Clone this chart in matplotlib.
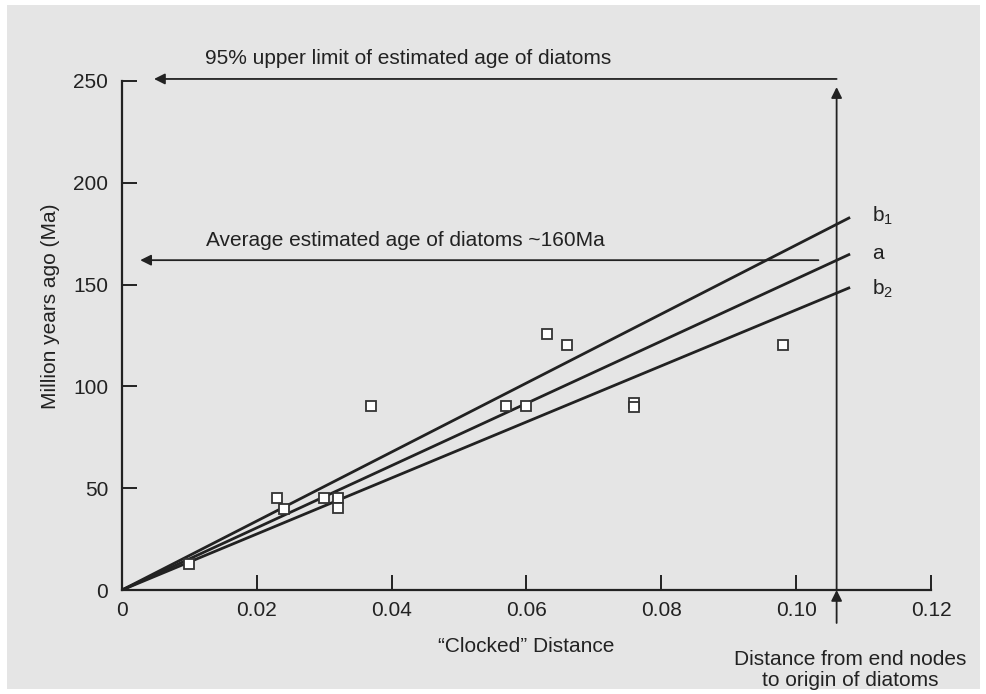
import matplotlib.pyplot as plt
from matplotlib.patches import Rectangle

plt.rcParams['font.family'] = ['Liberation Sans', 'DejaVu Sans']
plt.rcParams['mathtext.fontset'] = 'custom'
plt.rcParams['mathtext.rm'] = 'Liberation Sans'
plt.rcParams['mathtext.it'] = 'Liberation Sans'

# data
dist = [0.010, 0.023, 0.024, 0.030, 0.032, 0.032, 0.037, 0.057, 0.060,
        0.063, 0.066, 0.076, 0.076, 0.098]
age = [13, 45, 40, 45, 45, 40.5, 90.5, 90.5, 90.5, 125.7, 120.3, 92, 90, 120.3]

line_names = ['$\\mathregular{b_1}$', 'a', '$\\mathregular{b_2}$']
line_x_end = 0.108
line_y_end = [183, 165, 148.6]
label_y = [184, 165.5, 148]

upper_age = 251
avg_age = 162
origin_dist = 0.106

xticks = [0, 0.02, 0.04, 0.06, 0.08, 0.10, 0.12]
xticklabels = ['0', '0.02', '0.04', '0.06', '0.08', '0.10', '0.12']
yticks = [0, 50, 100, 150, 200, 250]

dark = '#222222'
grey = '#e5e5e5'
fs = 15

fig = plt.figure(figsize=(9.87, 6.94), dpi=100, facecolor='white')
fig.patches.append(Rectangle((7/987, 5/694), 1 - 14/987, 1 - 10/694,
                             transform=fig.transFigure, facecolor=grey,
                             edgecolor='none', zorder=-10))
ax = fig.add_axes([122/987, 1 - 590/694, (931 - 122)/987, (590 - 81)/694])
ax.set_facecolor('none')

for yend in line_y_end:
    ax.plot([0, line_x_end], [0, yend], color=dark, lw=2.0, solid_capstyle='butt')
for name, ly in zip(line_names, label_y):
    ax.text(0.1112, ly, name, fontsize=fs, color=dark, va='center', ha='left')

ax.plot(dist, age, 's', ms=7.5, mfc='white', mec='#333333', mew=1.3,
        linestyle='none', zorder=5)

ax.set_xlim(0, 0.12)
ax.set_ylim(0, 250)
ax.set_xticks(xticks)
ax.set_xticklabels(xticklabels)
ax.set_yticks(yticks)
for s in ['top', 'right']:
    ax.spines[s].set_visible(False)
for s in ['left', 'bottom']:
    ax.spines[s].set_linewidth(1.6)
    ax.spines[s].set_color(dark)
ax.tick_params(direction='in', length=11, width=1.4, color=dark,
               labelsize=fs, labelcolor=dark, pad=8)
ax.tick_params(axis='y', pad=10)

ax.set_xlabel('\u201cClocked\u201d Distance', fontsize=fs, color=dark, labelpad=12)
fig.text(51/987, 1 - 306/694, 'Million years ago (Ma)', rotation=90,
         fontsize=fs, color=dark, ha='center', va='center')

arrow = dict(arrowstyle='-|>', mutation_scale=16, lw=1.3, color=dark,
             shrinkA=0, shrinkB=0)
ax.annotate('', xy=(0.00475, upper_age), xytext=(origin_dist, upper_age),
            arrowprops=arrow, annotation_clip=False)
ax.annotate('', xy=(0.0027, avg_age), xytext=(0.1033, avg_age),
            arrowprops=arrow, annotation_clip=False)
ax.annotate('', xy=(origin_dist, 247), xytext=(origin_dist, 0),
            arrowprops=arrow, annotation_clip=False)
ax.annotate('', xy=(origin_dist, 0), xytext=(origin_dist, -16.2),
            arrowprops=arrow, annotation_clip=False)

ax.text(0.0123, 261, '95% upper limit of estimated age of diatoms', fontsize=fs,
        color=dark, va='center', ha='left', clip_on=False)
ax.text(0.0125, 171.6, 'Average estimated age of diatoms ~160Ma', fontsize=fs,
        color=dark, va='center', ha='left')
fig.text(850/987, 1 - 670/694, 'Distance from end nodes\nto origin of diatoms',
         fontsize=fs, color=dark, ha='center', va='center', linespacing=1.1)

fig.savefig('out.png', dpi=100, facecolor='white')
